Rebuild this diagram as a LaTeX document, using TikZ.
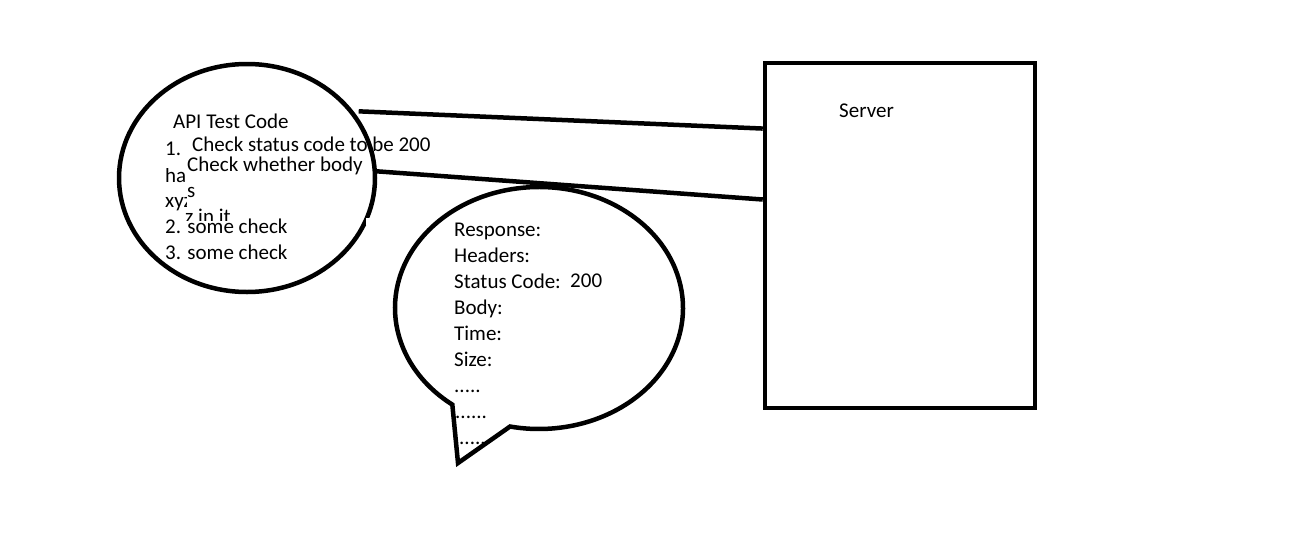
\documentclass[tikz,border=0pt]{standalone}
\usepackage{fontspec}
\setmainfont{Carlito}
\usetikzlibrary{shapes.geometric,calc}
\begin{document}
\begin{tikzpicture}[x=1pt,y=-1pt,
  stroke/.style={line width=4.5pt},
  txt/.style={anchor=base west,inner sep=0pt,font=\fontsize{21}{24}\selectfont},
]
\useasboundingbox[fill=white] (0,0) rectangle (1311,549);
% left ellipse
\node[ellipse,draw,stroke,minimum width=256pt,minimum height=228pt,inner sep=0pt] (api) at (247,178) {};
\fill[white] (366,218) rectangle (381,225);
% server
\node[rectangle,draw,stroke,minimum width=270pt,minimum height=345pt,inner sep=0pt] (server) at (900,235.5) {};
\node[txt] (servertxt) at (839,117) {Server};
% connectors
\coordinate (s1) at ($(server.north west)!0.194!(server.south west)$);
\coordinate (s2) at ($(server.north west)!0.397!(server.south west)$);
\draw[stroke] ([xshift=5pt]api.32) -- (s1);
\draw[stroke] ([xshift=-2pt]api.3) -- (s2);
% speech bubble
\draw[stroke,line join=miter] (539,308) ++(127:144 and 121)
  arc[start angle=127,end angle=461.6,x radius=144,y radius=121]
  -- (458,463) -- cycle;
% left texts
\node[txt] (t0) at (173,128) {API Test Code};
\node[txt] (t1) at (165,155) {1.};
\node[txt] (t2) at (192,151) {Check status code to be 200};
\node[txt] (t3) at (187,171) {Check whether body};
\begin{scope}
  \clip (100,168) rectangle (186,215);
  \node[txt] (t4) at (165,182) {has};
  \node[txt] (t6) at (165,207) {xyz};
\end{scope}
\node[txt] (t5) at (187,197) {s};
\begin{scope}
  \clip (150,190) rectangle (270,220);
  \node[txt] (t7) at (185,223) {z in it};
\end{scope}
\node[txt] (t8) at (165,233) {2. some check};
\node[txt] (t9) at (165,259) {3. some check};
% response texts
\node[txt] (r1) at (454,236) {Response:};
\node[txt] (r2) at (454,262) {Headers:};
\node[txt] (r3) at (454,288) {Status Code:};
\node[txt] (r3b) at (570,287) {200};
\node[txt] (r4) at (454,314) {Body:};
\node[txt] (r5) at (454,340) {Time:};
\node[txt] (r6) at (454,366) {Size:};
\node[txt] (r7) at (454,392) {.....};
\node[txt] (r8) at (455,418) {......};
\node[txt] (r9) at (459,444) {.....};
\end{tikzpicture}
\end{document}
